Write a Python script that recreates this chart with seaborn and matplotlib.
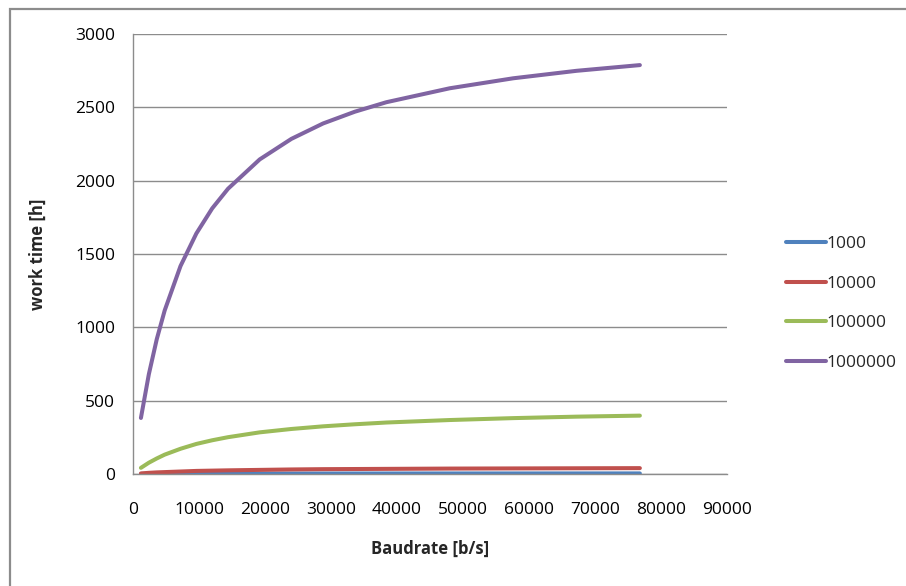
import matplotlib
matplotlib.use("Agg")
import matplotlib.pyplot as plt
import seaborn as sns
import pandas as pd
from matplotlib.patches import Rectangle

# ---- data ----
baudrates = [1200, 2400, 3600, 4800, 7200, 9600, 12000, 14400, 19200, 24000,
             28800, 33600, 38400, 48000, 57600, 67200, 76800]
series_names = ["1000", "10000", "100000", "1000000"]
wt_1000 = [0.4, 0.8, 1.1, 1.3, 1.7, 2.1, 2.3, 2.5, 2.8, 3.1,
           3.3, 3.4, 3.5, 3.7, 3.8, 3.9, 4.0]
wt_10000 = [4, 8, 11, 13, 17, 21, 23, 25, 28, 31,
            33, 34, 35, 37, 38, 39, 40]
wt_100000 = [42, 77, 106, 132, 172, 205, 230, 251, 284, 307,
             325, 339, 351, 368, 381, 391, 398]
wt_1000000 = [382, 680, 919, 1115, 1418, 1640, 1811, 1945, 2145, 2285,
              2390, 2470, 2535, 2630, 2698, 2749, 2788]
colors = ["#4F81BD", "#C0504D", "#9BBB59", "#8064A2"]
x_ticks = [0, 10000, 20000, 30000, 40000, 50000, 60000, 70000, 80000, 90000]
y_ticks = [0, 500, 1000, 1500, 2000, 2500, 3000]

rows = []
for name, vals in zip(series_names, [wt_1000, wt_10000, wt_100000, wt_1000000]):
    for b, v in zip(baudrates, vals):
        rows.append({"Baudrate": b, "work time": v, "series": name})
df = pd.DataFrame(rows)

sns.set_theme(style="white")
plt.rcParams["font.family"] = ["Open Sans", "DejaVu Sans"]

fig = plt.figure(figsize=(9.06, 5.86), dpi=100)
ax = fig.add_axes([133 / 906, 1 - 474 / 586, (727 - 133) / 906, (474 - 34) / 586])

sns.lineplot(data=df, x="Baudrate", y="work time", hue="series",
             hue_order=series_names, palette=colors, linewidth=2.9,
             ax=ax, legend=True)

ax.set_xlim(0, 90000)
ax.set_ylim(0, 3000)
ax.set_xticks(x_ticks)
ax.set_xticklabels([str(t) for t in x_ticks])
ax.set_yticks(y_ticks)
ax.set_yticklabels([str(t) for t in y_ticks])
ax.yaxis.grid(True, color="#8C8C8C", linewidth=1.0)
ax.xaxis.grid(False)
ax.set_axisbelow(True)
for s in ["top", "right"]:
    ax.spines[s].set_visible(False)
for s in ["left", "bottom"]:
    ax.spines[s].set_color("#8C8C8C")
    ax.spines[s].set_linewidth(1.0)
ax.tick_params(axis="x", length=0, pad=20, labelsize=12.5, colors="#000000")
ax.tick_params(axis="y", length=0, pad=13, labelsize=12.5, colors="#000000")

ax.set_xlabel("Baudrate [b/s]", fontsize=12, fontweight="bold", labelpad=16)
ax.set_ylabel("work time [h]", fontsize=12, fontweight="bold", labelpad=20)

handles, labels = ax.get_legend_handles_labels()
ax.get_legend().remove()
fig.legend(handles, labels, loc="upper left", bbox_to_anchor=(779 / 906, 1 - 229 / 586),
           frameon=False, fontsize=12.5, handlelength=2.3, handletextpad=0.05,
           labelspacing=1.35, borderaxespad=0)

# outer chart frame (partially cropped in the reference)
fig.add_artist(Rectangle((10 / 906, -0.2), 1.2, 1.2 - 9 / 586, transform=fig.transFigure,
                         fill=False, edgecolor="#8C8C8C", linewidth=1.6, clip_on=False))

fig.savefig("out.png", dpi=100)
